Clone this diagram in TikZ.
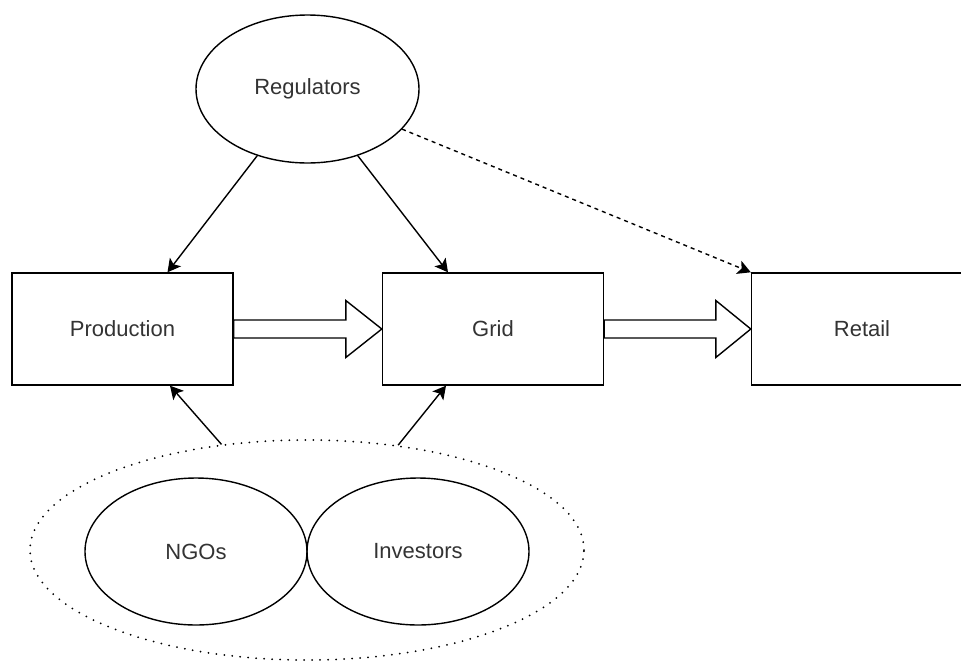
\documentclass[tikz,border=0pt]{standalone}
\usepackage{fontspec}
\setmainfont{Liberation Sans}
\usetikzlibrary{shapes.geometric,arrows.meta,calc}
\definecolor{txt}{HTML}{333333}
\begin{document}
\begin{tikzpicture}[x=1pt,y=-1pt,
  line width=1.4pt,
  every node/.style={font=\fontsize{22}{26}\selectfont, text=txt},
  box/.style={draw=black, rectangle, minimum width=221pt, minimum height=112pt, inner sep=0pt},
  oval/.style={draw=black, ellipse, minimum width=222pt, minimum height=147pt, inner sep=0pt},
  group/.style={draw=black, ellipse, minimum width=554pt, minimum height=220pt, inner sep=0pt,
    line width=2pt, line cap=round, dash pattern=on 0pt off 8pt},
  link/.style={-{Stealth[length=13pt,width=14pt,inset=3pt]}, draw=black},
  flow/.style={draw=black, fill=white, line join=miter}
]
\useasboundingbox (0,0) rectangle (961,662);

% stakeholders
\node[oval, minimum width=223pt, minimum height=148pt] (reg) at (307.5,89) {Regulators};
\node[group] (grp) at (307,550) {};
\node[oval] (ngo) at (196,551.5) {NGOs};
\node[oval] (inv) at (418,551.5) {Investors};

% value chain
\node[box] (prod) at (122.5,329) {Production};
\node[box] (grid) at (493,329) {Grid};
\node[box] (ret) at (862,329) {Retail};

% block arrows along the chain
\path[flow] ($(prod.east)+(0,-9)$) -- ($(grid.west)+(-36,-9)$) -- ($(grid.west)+(-36,-28.5)$)
  -- (grid.west) -- ($(grid.west)+(-36,28.5)$) -- ($(grid.west)+(-36,9)$)
  -- ($(prod.east)+(0,9)$) -- cycle;
\path[flow] ($(grid.east)+(0,-9)$) -- ($(ret.west)+(-35,-9)$) -- ($(ret.west)+(-35,-28.5)$)
  -- (ret.west) -- ($(ret.west)+(-35,28.5)$) -- ($(ret.west)+(-35,9)$)
  -- ($(grid.east)+(0,9)$) -- cycle;

% influence links
\draw[link] (reg.233.4) -- ($(prod.north)+(45,0)$);
\draw[link] (reg.-53.4) -- ($(grid.north)+(-45,0)$);
\draw[link, dash pattern=on 4pt off 4pt] (reg.-23.5) -- (ret.north west);
\draw[link] (grp.129.6) -- ($(prod.south)+(47.5,0)$);
\draw[link] (grp.49.7) -- ($(grid.south)+(-47,0)$);
\end{tikzpicture}
\end{document}
